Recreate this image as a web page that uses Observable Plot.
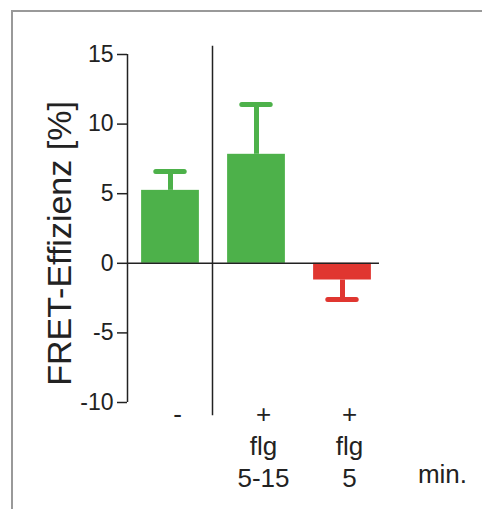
<!DOCTYPE html>
<html>
<head>
<meta charset="utf-8">
<script src="https://cdn.jsdelivr.net/npm/d3@7"></script>
<script src="https://cdn.jsdelivr.net/npm/@observablehq/plot@0.6"></script>
<style>
  html, body { margin: 0; padding: 0; background: #fff; }
  #wrap { position: relative; width: 482px; height: 509px; overflow: hidden; }
  #border { position: absolute; left: 11px; top: 10px; right: -5px; bottom: -5px;
            border-left: 2px solid #999; border-top: 2px solid #999; }
  #chart { position: absolute; left: 0; top: 0; }
  svg { font-family: "Liberation Sans", Arial, sans-serif; }
</style>
</head>
<body>
<div id="wrap"><div id="border"></div><div id="chart"></div></div>
<script>
// Data
const categories = ["-", "+\nflg\n5-15", "+\nflg\n5"];
const values = [5.24, 7.83, -1.2];
const errors = [1.36, 3.57, 1.4];
const barColors = ["#4db14a", "#4db14a", "#e03630"];
const yTicks = [-10, -5, 0, 5, 10, 15];
const unitLabel = "min.";
const yLabel = "FRET-Effizienz [%]";

const data = categories.map((c, i) => ({
  pos: i + 1,
  cat: c,
  value: values[i],
  tip: values[i] + Math.sign(values[i]) * errors[i],
  color: barColors[i]
}));

const half = 0.336;     // half bar width (in category steps)
const capHalf = 0.165;  // half error-cap width
const ink = "#222";

const chart = Plot.plot({
  width: 482,
  height: 509,
  marginLeft: 127,
  marginRight: 11,
  marginTop: 54,
  marginBottom: 107,
  x: {domain: [0.5, 4.5]},
  y: {domain: [-10, 15]},
  color: {type: "identity"},
  style: {fontFamily: "'Liberation Sans', Arial, sans-serif", background: "transparent"},
  marks: [
    Plot.rectY(data, {x1: d => d.pos - half, x2: d => d.pos + half, y1: 0, y2: "value", fill: "color"}),
    Plot.ruleX(data, {x: "pos", y1: "value", y2: "tip", stroke: "color", strokeWidth: 5}),
    Plot.ruleY(data, {y: "tip", x1: d => d.pos - capHalf, x2: d => d.pos + capHalf, stroke: "color", strokeWidth: 5, strokeLinecap: "round"}),
    // zero line
    Plot.ruleY([0], {x1: 0.5, x2: 3.43, stroke: ink, strokeWidth: 1.5}),
    // group separator between control and treated
    Plot.ruleX([1.5], {y1: 15.6, y2: -10.95, stroke: ink, strokeWidth: 1.5, dx: -1}),
    // y axis line
    Plot.ruleX([0.5], {y1: -10, y2: 15, stroke: ink, strokeWidth: 1.5}),
    Plot.axisY({ticks: yTicks, tickFormat: d => String(d), tickSize: 10, tickPadding: 4, fontSize: 23, label: null, stroke: ink, strokeWidth: 1.5, fill: ink}),
    Plot.axisX({ticks: [1, 2, 3], tickFormat: i => categories[i - 1], tickSize: 0, tickPadding: 0, dy: -2, dx: 7, fontSize: 26, lineHeight: 1.23, fill: ink, label: null}),
    Plot.axisX({ticks: [4], tickFormat: () => unitLabel, tickSize: 0, tickPadding: 0, dy: 62, dx: 14, fontSize: 26, fill: ink, label: null}),
    Plot.text([yLabel], {frameAnchor: "left", textAnchor: "middle", rotate: -90, dx: -67, dy: 15, fontSize: 34, lineAnchor: "middle", fill: ink})
  ]
});
document.getElementById("chart").appendChild(chart);
</script>
</body>
</html>
